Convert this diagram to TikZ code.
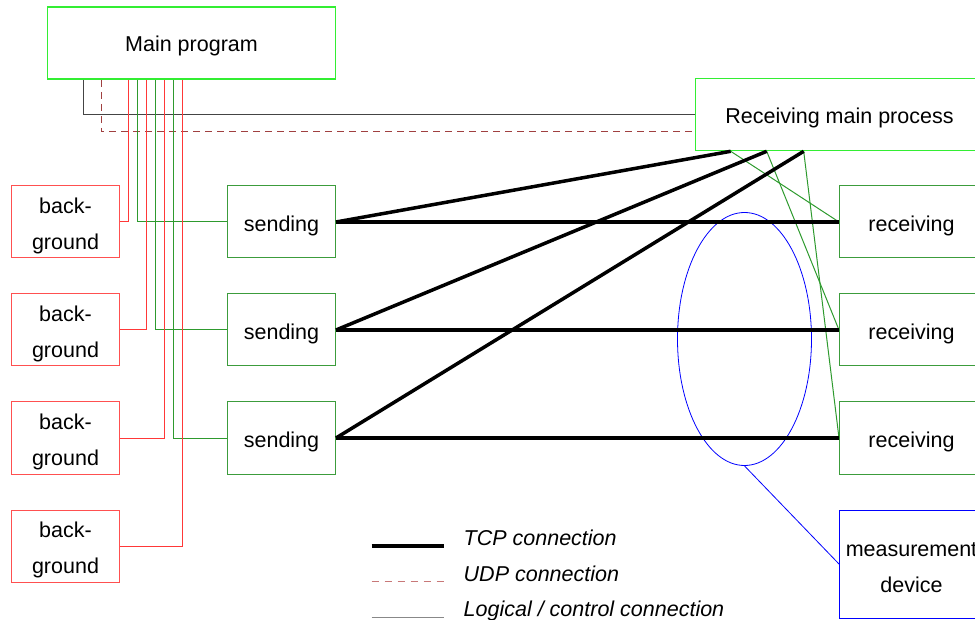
\documentclass[tikz,border=0pt]{standalone}
\usepackage{fontspec}
\setmainfont{Liberation Sans}
\usetikzlibrary{shapes.geometric}
\definecolor{brightgreen}{HTML}{33EE33}
\definecolor{midgreen}{HTML}{3C9C3C}
\definecolor{linegreen}{HTML}{2E9A2E}
\definecolor{lightred}{HTML}{FF5050}
\definecolor{linered}{HTML}{FF3838}
\definecolor{udpred}{HTML}{A04040}
\definecolor{udplegend}{HTML}{C87878}
\definecolor{logicgray}{HTML}{444444}
\definecolor{legendgray}{HTML}{888888}
\tikzset{
  box/.style={inner sep=0pt},
  lbl/.style={inner sep=0pt, align=center, font=\fontsize{21.5pt}{36pt}\selectfont},
  mainbox/.style={box, draw=brightgreen, line width=1.6pt, minimum width=288pt, minimum height=72pt},
  bgbox/.style={box, draw=lightred, line width=1pt, minimum width=108pt, minimum height=72pt},
  sendbox/.style={box, draw=midgreen, line width=1pt, minimum width=108pt, minimum height=72pt},
  recvbox/.style={box, draw=midgreen, line width=1pt, minimum width=144pt, minimum height=72pt},
  measbox/.style={box, draw=blue, line width=1pt, minimum width=144pt, minimum height=108pt},
  tcp/.style={line width=3.5pt, black},
  udp/.style={line width=1pt, udpred, dash pattern=on 7pt off 5pt},
  logic/.style={line width=1pt, logicgray},
  redline/.style={line width=1pt, linered},
  greenline/.style={line width=1pt, linegreen},
  legtext/.style={anchor=base west, inner sep=0pt, font=\fontsize{21.5pt}{26pt}\selectfont\itshape}
}
\begin{document}
\begin{tikzpicture}[x=1pt,y=-1pt]
\useasboundingbox (-0.5,-1) rectangle (974.5,619);
\clip (-0.5,-1) rectangle (974.5,619);
% boxes
\node[mainbox] (main) at (191,42) {};
\node[mainbox] (rmp) at (839,113.5) {};
\node[bgbox] (bg1) at (65,221) {};
\node[bgbox] (bg2) at (65,329) {};
\node[bgbox] (bg3) at (65,437) {};
\node[bgbox] (bg4) at (65,545) {};
\node[sendbox] (s1) at (281,221) {};
\node[sendbox] (s2) at (281,329) {};
\node[sendbox] (s3) at (281,437) {};
\node[recvbox] (r1) at (911,221) {};
\node[recvbox] (r2) at (911,329) {};
\node[recvbox] (r3) at (911,437) {};
\node[measbox] (meas) at (911,563) {};
\node[ellipse, draw=blue, line width=0.8pt, minimum width=134pt, minimum height=253pt, inner sep=0pt] (ell) at (744,338) {};
% tap coordinates
\coordinate (xk) at (83,0);
\coordinate (xu) at (101,0);
\coordinate (xr1) at (128,0);
\coordinate (xg1) at (137,0);
\coordinate (xr2) at (146,0);
\coordinate (xg2) at (155,0);
\coordinate (xr3) at (164,0);
\coordinate (xg3) at (173,0);
\coordinate (xr4) at (182,0);
\coordinate (udpend) at ([yshift=-17.5pt]rmp.west);
\coordinate (t1) at ([xshift=36pt]rmp.south west);
\coordinate (t2) at ([xshift=72pt]rmp.south west);
\coordinate (t3) at ([xshift=109pt]rmp.south west);
% logical / udp to receiving main process
\draw[logic] (main.south -| xk) |- (rmp.west);
\draw[udp] (main.south -| xu) |- (udpend);
% control lines
\draw[redline] (main.south -| xr1) |- (bg1.east);
\draw[greenline] (main.south -| xg1) |- (s1.west);
\draw[redline] (main.south -| xr2) |- (bg2.east);
\draw[greenline] (main.south -| xg2) |- (s2.west);
\draw[redline] (main.south -| xr3) |- (bg3.east);
\draw[greenline] (main.south -| xg3) |- (s3.west);
\draw[redline] (main.south -| xr4) |- (bg4.east);
% green lines from receiving main process
\draw[greenline] (t1) -- (r1.west);
\draw[greenline] (t2) -- (r2.west);
\draw[greenline] (t3) -- (r3.west);
% TCP
\draw[tcp] (s1.east) -- (r1.west);
\draw[tcp] (s2.east) -- (r2.west);
\draw[tcp] (s3.east) -- (r3.west);
\draw[tcp] (s1.east) -- (t1);
\draw[tcp] (s2.east) -- (t2);
\draw[tcp] (s3.east) -- (t3);
% measurement
\draw[blue, line width=0.8pt] (ell.south) -- (meas.west);
% texts
\node[lbl] (mainT) at ([yshift=-3pt]main.center) {Main program};
\node[lbl] (rmpT) at ([yshift=-3pt]rmp.center) {Receiving main process};
\node[lbl] (bg1T) at ([yshift=-4pt]bg1.center) {back-\\ground};
\node[lbl] (bg2T) at ([yshift=-4pt]bg2.center) {back-\\ground};
\node[lbl] (bg3T) at ([yshift=-4pt]bg3.center) {back-\\ground};
\node[lbl] (bg4T) at ([yshift=-4pt]bg4.center) {back-\\ground};
\node[lbl] (s1T) at ([yshift=-4pt]s1.center) {sending};
\node[lbl] (s2T) at ([yshift=-4pt]s2.center) {sending};
\node[lbl] (s3T) at ([yshift=-4pt]s3.center) {sending};
\node[lbl] (r1T) at ([yshift=-4pt]r1.center) {receiving};
\node[lbl] (r2T) at ([yshift=-4pt]r2.center) {receiving};
\node[lbl] (r3T) at ([yshift=-4pt]r3.center) {receiving};
\node[lbl] (measT) at ([yshift=-4pt]meas.center) {measurement\\device};
% legend
\coordinate (la1) at (371,545); \coordinate (lb1) at (443,545);
\coordinate (la2) at (371,580); \coordinate (lb2) at (443,580);
\coordinate (la3) at (371,616); \coordinate (lb3) at (443,616);
\draw[tcp] (la1) -- (lb1);
\draw[line width=1pt, udplegend, dash pattern=on 7pt off 6pt] (la2) -- (lb2);
\draw[line width=1pt, legendgray] (la3) -- (lb3);
\node[legtext] (lt1) at (463,544) {TCP connection};
\node[legtext] (lt2) at (463,580) {UDP connection};
\node[legtext] (lt3) at (463,615) {Logical / control connection};
\end{tikzpicture}
\end{document}
